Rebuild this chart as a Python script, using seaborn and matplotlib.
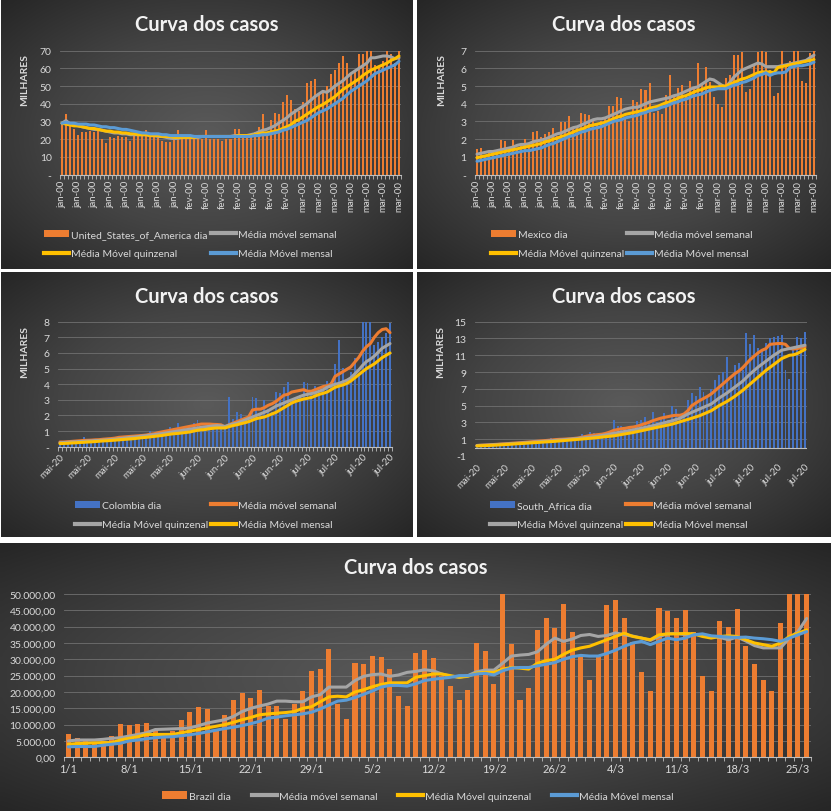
import numpy as np
import matplotlib
matplotlib.use("Agg")
import matplotlib.pyplot as plt
from matplotlib.patches import Patch
from matplotlib.lines import Line2D
from matplotlib.colors import LinearSegmentedColormap
import seaborn as sns

plt.rcParams['font.family'] = ['Lato', 'DejaVu Sans']

# ---------------- dados (milhares para os 4 paineis de cima) ----------------
usa_dia = [29.3, 34, 27.8, 25.5, 22.1, 24, 24, 24.6, 24.2, 24.6,
           19.9, 17.6, 21.4, 20.4, 21.8, 21.4, 21.4, 18.9, 21.8, 21.8,
           22.1, 25.2, 21.8, 21.8, 20.8, 18.9, 18.5, 18.5, 19.9, 25,
           21.8, 20.2, 19.9, 19.9, 19.9, 20.2, 25, 19.9, 19.9, 19.9,
           18.9, 19.9, 19.9, 26, 26, 21, 21, 22, 24, 27,
           34, 24, 31, 35, 34, 41, 45, 42, 37, 36,
           41, 52, 53, 54, 46, 48, 50, 57, 59, 63,
           67, 63, 57, 58, 68, 68, 70, 70, 62, 61,
           64, 70, 68, 63, 70]
usa_semanal = [29, 30.5, 28.5, 28, 27.5, 27, 26.5, 26, 25.5, 25.5,
               25, 24.5, 24, 23.5, 23.5, 23, 23, 22.5, 22.5, 22.5,
               22.5, 22.5, 22, 22, 21.5, 21.5, 21, 20.5, 20.3, 20.5,
               21, 21, 21, 21, 21, 21.5, 21.5, 21.5, 21.5, 21.5,
               21.5, 21.5, 21.5, 22, 22, 22, 22, 22.5, 23, 24,
               25, 25.5, 26.5, 27.5, 29, 30.5, 32, 34, 35.5, 37,
               38.5, 40, 42, 44, 45.5, 47, 46.5, 48, 50, 51.5,
               53, 55, 57, 58.5, 60, 61.5, 63, 66, 66, 66.5,
               67, 67, 66.5, 65.5, 66]
usa_quinzenal = [29, 28.5, 28, 27.5, 27.5, 27, 26.5, 26, 26, 25.5,
                 25, 24.5, 24.5, 24, 24, 23.5, 23.5, 23, 23, 22.5,
                 22.5, 22.5, 22, 22, 22, 21.5, 21.5, 21.5, 21, 21,
                 21, 21, 21, 21, 21.5, 21.5, 21.5, 21.5, 21.5, 21.5,
                 21.5, 21.5, 21.5, 21.5, 22, 22, 22, 22, 22.5, 23,
                 23.5, 23.5, 24, 24.5, 25, 26, 27, 28, 30, 31,
                 32.5, 34, 35.5, 37, 38.5, 39.5, 41, 42.5, 44, 46,
                 48, 49.5, 51, 52.5, 54, 56, 57.5, 59, 60, 61,
                 62, 63, 64.5, 65.5, 67]
usa_mensal = [29, 29.5, 29, 29, 28.5, 28.5, 28.5, 28, 28, 27.5,
              27, 27, 26.5, 26.5, 26, 25.5, 25.5, 25, 24.5, 24,
              23.5, 23.5, 23, 23, 23, 22.5, 22.5, 22, 22, 22,
              22, 22, 22, 21.5, 21.5, 21.5, 21.5, 21.5, 21.5, 21.5,
              21.5, 21.5, 21.5, 21.5, 21.5, 21.5, 21.5, 21.5, 22, 22,
              22.5, 22.5, 23, 23.5, 24, 25, 25.5, 26.5, 27.5, 28.5,
              29.5, 30.5, 32, 33.5, 35, 36, 37, 38.5, 40, 41.5,
              43, 45, 47, 48.5, 50, 51.5, 53, 55, 57, 58,
              59, 60, 61, 62, 64]

mex_dia = [1.45, 1.5, 1.1, 1.3, 1.35, 1.25, 1.95, 1.9, 1.55, 1.95,
           1.5, 1.6, 2.0, 1.6, 2.4, 2.45, 2.1, 2.3, 2.4, 2.65,
           2.2, 2.95, 2.95, 3.3, 2.6, 2.7, 3.45, 3.4, 3.35, 3.1,
           2.9, 3.0, 3.2, 3.85, 3.9, 4.4, 4.3, 3.2, 3.05, 4.2,
           4.1, 4.85, 4.75, 5.2, 3.45, 3.6, 3.4, 4.5, 5.65, 4.4,
           4.9, 5.05, 4.5, 5.3, 4.85, 6.3, 5.1, 6.1, 5.25, 4.4,
           4.0, 3.8, 5.45, 5.65, 6.75, 6.75, 6.9, 4.65, 4.85, 6.2,
           6.95, 7.0, 6.9, 5.9, 4.45, 4.6, 7.0, 6.1, 6.4, 7.0,
           7.0, 5.3, 5.15, 6.85, 7.0]
mex_semanal = [1.15, 1.2, 1.25, 1.3, 1.3, 1.35, 1.4, 1.45, 1.5, 1.55,
               1.65, 1.7, 1.7, 1.75, 1.85, 1.9, 1.95, 2.0, 2.1, 2.2,
               2.3, 2.35, 2.45, 2.55, 2.65, 2.7, 2.8, 2.9, 3.0, 3.1,
               3.15, 3.15, 3.2, 3.3, 3.4, 3.5, 3.6, 3.7, 3.75, 3.8,
               3.8, 3.9, 4.0, 4.1, 4.15, 4.2, 4.25, 4.3, 4.35, 4.45,
               4.5, 4.6, 4.7, 4.8, 4.9, 4.95, 5.1, 5.25, 5.4, 5.35,
               5.2, 5.05, 4.95, 5.2, 5.5, 5.7, 5.9, 6.0, 6.1, 6.2,
               6.3, 6.25, 6.1, 6.1, 6.1, 6.1, 6.15, 6.2, 6.25, 6.3,
               6.35, 6.4, 6.45, 6.6, 6.75]
mex_quinzenal = [0.95, 1.0, 1.05, 1.1, 1.15, 1.2, 1.25, 1.3, 1.35, 1.4,
                 1.45, 1.5, 1.55, 1.6, 1.65, 1.7, 1.75, 1.85, 1.9, 2.0,
                 2.05, 2.15, 2.2, 2.3, 2.4, 2.5, 2.55, 2.65, 2.75, 2.8,
                 2.85, 2.9, 2.95, 3.05, 3.15, 3.25, 3.3, 3.4, 3.45, 3.5,
                 3.55, 3.6, 3.65, 3.75, 3.8, 3.85, 3.95, 4.05, 4.1, 4.2,
                 4.3, 4.4, 4.45, 4.55, 4.65, 4.75, 4.8, 4.9, 4.95, 4.95,
                 4.95, 5.0, 5.0, 5.1, 5.2, 5.3, 5.4, 5.45, 5.55, 5.65,
                 5.75, 5.8, 5.8, 5.8, 5.75, 6.05, 6.1, 6.15, 6.2, 6.25,
                 6.3, 6.35, 6.4, 6.45, 6.5]
mex_mensal = [0.75, 0.8, 0.85, 0.9, 0.95, 1.0, 1.05, 1.1, 1.15, 1.2,
              1.25, 1.3, 1.35, 1.35, 1.4, 1.45, 1.5, 1.6, 1.7, 1.75,
              1.85, 1.95, 2.05, 2.15, 2.2, 2.3, 2.4, 2.45, 2.55, 2.6,
              2.65, 2.7, 2.8, 2.9, 3.0, 3.05, 3.1, 3.2, 3.25, 3.3,
              3.35, 3.45, 3.5, 3.6, 3.65, 3.7, 3.8, 3.85, 3.95, 4.05,
              4.1, 4.2, 4.25, 4.35, 4.45, 4.5, 4.55, 4.65, 4.75, 4.8,
              4.85, 4.85, 4.85, 4.95, 5.05, 5.1, 5.2, 5.25, 5.35, 5.45,
              5.6, 5.65, 5.75, 5.6, 5.7, 5.75, 5.75, 5.8, 6.05, 6.1,
              6.15, 6.15, 6.2, 6.25, 6.35]

col_dia = [0.25, 0.3, 0.25, 0.3, 0.35, 0.35, 0.6, 0.35, 0.4, 0.45,
           0.4, 0.45, 0.5, 0.45, 0.5, 0.55, 0.6, 0.55, 0.6, 0.65,
           0.6, 0.7, 0.75, 1.0, 0.8, 0.85, 0.9, 1.05, 1.25, 1.2,
           1.5, 1.1, 1.0, 1.2, 1.5, 1.7, 1.3, 1.2, 1.4, 1.35,
           1.45, 1.3, 1.2, 3.2, 1.8, 2.2, 2.1, 1.6, 1.7, 3.15,
           3.1, 2.0, 3.0, 2.4, 2.2, 3.5, 3.45, 3.85, 4.15, 3.0,
           2.8, 3.3, 4.15, 4.1, 3.4, 3.9, 3.3, 3.7, 4.2, 4.15,
           5.3, 6.8, 5.05, 4.3, 4.8, 5.7, 4.6, 8.0, 8.0, 8.0,
           6.5, 6.7, 7.0, 7.3, 7.9]
col_semanal = [0.3, 0.3, 0.32, 0.34, 0.36, 0.38, 0.4, 0.41, 0.42, 0.44,
               0.45, 0.48, 0.5, 0.52, 0.55, 0.6, 0.62, 0.64, 0.66, 0.68,
               0.7, 0.72, 0.75, 0.8, 0.83, 0.9, 0.95, 1.0, 1.05, 1.1,
               1.15, 1.2, 1.25, 1.3, 1.35, 1.4, 1.45, 1.45, 1.45, 1.43,
               1.42, 1.4, 1.25, 1.4, 1.5, 1.6, 1.7, 1.8, 1.9, 2.35,
               2.4, 2.4, 2.5, 2.65, 2.75, 2.9, 3.1, 3.3, 3.35, 3.5,
               3.55, 3.6, 3.65, 3.55, 3.55, 3.65, 3.75, 3.85, 3.9, 4.0,
               4.5, 4.65, 4.8, 4.95, 5.1, 5.4, 5.7, 6.1, 6.4, 6.6,
               7.0, 7.3, 7.5, 7.55, 7.3]
col_quinzenal = [0.25, 0.27, 0.28, 0.3, 0.31, 0.33, 0.34, 0.36, 0.37, 0.39,
                 0.4, 0.42, 0.44, 0.46, 0.48, 0.51, 0.54, 0.57, 0.6, 0.62,
                 0.65, 0.68, 0.71, 0.74, 0.77, 0.8, 0.84, 0.88, 0.92, 0.96,
                 1.0, 1.04, 1.08, 1.12, 1.16, 1.2, 1.24, 1.27, 1.3, 1.33,
                 1.35, 1.33, 1.3, 1.38, 1.45, 1.5, 1.6, 1.7, 1.8, 1.9,
                 2.0, 2.1, 2.2, 2.3, 2.45, 2.6, 2.7, 2.8, 2.9, 3.0,
                 3.1, 3.2, 3.3, 3.35, 3.4, 3.45, 3.55, 3.65, 3.8, 3.9,
                 4.0, 4.05, 4.15, 4.25, 4.4, 4.65, 4.9, 5.2, 5.45, 5.6,
                 5.8, 6.05, 6.3, 6.45, 6.6]
col_mensal = [0.2, 0.21, 0.22, 0.24, 0.25, 0.27, 0.28, 0.3, 0.31, 0.33,
              0.35, 0.37, 0.38, 0.4, 0.42, 0.44, 0.46, 0.48, 0.5, 0.52,
              0.55, 0.58, 0.6, 0.63, 0.66, 0.69, 0.72, 0.76, 0.8, 0.83,
              0.85, 0.88, 0.91, 0.94, 1.0, 1.05, 1.08, 1.1, 1.15, 1.18,
              1.2, 1.2, 1.2, 1.28, 1.35, 1.4, 1.47, 1.53, 1.6, 1.7,
              1.8, 1.85, 1.9, 2.0, 2.1, 2.2, 2.35, 2.5, 2.65, 2.8,
              2.9, 2.98, 3.05, 3.1, 3.15, 3.25, 3.35, 3.42, 3.5, 3.65,
              3.8, 3.88, 3.95, 4.05, 4.2, 4.4, 4.6, 4.8, 5.0, 5.15,
              5.3, 5.5, 5.7, 5.85, 6.0]

saf_dia = [0.25, 0.2, 0.3, 0.35, 0.35, 0.4, 0.45, 0.4, 0.45, 0.5,
           0.55, 0.6, 0.5, 0.55, 0.6, 0.7, 0.75, 0.8, 0.9, 1.2,
           0.9, 0.95, 1.0, 1.0, 0.9, 1.1, 1.2, 1.6, 1.3, 1.9,
           1.7, 1.4, 1.3, 1.5, 1.8, 3.3, 2.6, 2.6, 2.2, 2.4,
           2.3, 3.2, 3.3, 3.7, 3.0, 4.2, 3.1, 3.6, 4.1, 3.3,
           5.0, 4.6, 3.8, 4.0, 5.7, 6.5, 6.1, 7.2, 6.6, 5.9,
           7.0, 8.0, 8.7, 9.0, 10.8, 8.0, 9.9, 10.1, 9.2, 13.6,
           12.3, 13.4, 11.9, 11.5, 12.5, 13.0, 13.2, 13.3, 13.4, 9.2,
           8.2, 12.0, 13.2, 13.0, 13.8]
saf_semanal = [0.25, 0.28, 0.3, 0.33, 0.36, 0.39, 0.42, 0.45, 0.48, 0.52,
               0.55, 0.58, 0.62, 0.66, 0.7, 0.74, 0.78, 0.82, 0.86, 0.9,
               0.95, 0.98, 1.0, 1.03, 1.05, 1.1, 1.15, 1.25, 1.35, 1.45,
               1.5, 1.55, 1.6, 1.7, 1.85, 2.05, 2.15, 2.25, 2.3, 2.4,
               2.45, 2.55, 2.7, 2.85, 3.0, 3.2, 3.35, 3.5, 3.6, 3.7,
               3.8, 3.85, 3.85, 4.0, 4.4, 5.0, 5.3, 5.6, 5.85, 6.1,
               6.4, 6.8, 7.2, 7.6, 8.0, 8.4, 8.8, 9.1, 9.5, 10.0,
               10.5, 10.9, 11.3, 11.6, 11.8, 12.3, 12.35, 12.4, 12.4, 12.3,
               11.8, 11.75, 11.8, 11.9, 12.0]
saf_quinzenal = [0.25, 0.27, 0.29, 0.31, 0.34, 0.36, 0.39, 0.41, 0.44, 0.47,
                 0.5, 0.53, 0.56, 0.6, 0.63, 0.67, 0.71, 0.74, 0.78, 0.82,
                 0.85, 0.89, 0.93, 0.97, 1.01, 1.05, 1.1, 1.15, 1.2, 1.25,
                 1.3, 1.37, 1.45, 1.52, 1.6, 1.7, 1.78, 1.86, 1.94, 2.02,
                 2.1, 2.2, 2.3, 2.4, 2.5, 2.6, 2.72, 2.84, 2.96, 3.08,
                 3.2, 3.35, 3.5, 3.75, 4.0, 4.2, 4.4, 4.6, 4.8, 5.0,
                 5.2, 5.55, 5.9, 6.2, 6.5, 6.85, 7.2, 7.55, 7.9, 8.35,
                 8.8, 9.2, 9.6, 9.95, 10.3, 10.65, 11.0, 11.3, 11.6, 11.7,
                 11.8, 11.9, 12.0, 12.1, 12.2]
saf_mensal = [0.2, 0.22, 0.24, 0.26, 0.28, 0.3, 0.33, 0.36, 0.39, 0.42,
              0.45, 0.48, 0.51, 0.54, 0.57, 0.6, 0.63, 0.66, 0.69, 0.72,
              0.75, 0.79, 0.83, 0.87, 0.91, 0.95, 0.99, 1.03, 1.07, 1.11,
              1.15, 1.2, 1.25, 1.3, 1.35, 1.4, 1.48, 1.56, 1.64, 1.72,
              1.8, 1.9, 2.0, 2.1, 2.2, 2.3, 2.4, 2.5, 2.6, 2.7,
              2.8, 2.94, 3.08, 3.22, 3.36, 3.5, 3.65, 3.8, 4.0, 4.2,
              4.4, 4.7, 5.0, 5.25, 5.5, 5.8, 6.1, 6.45, 6.8, 7.2,
              7.6, 8.0, 8.4, 8.8, 9.2, 9.55, 9.9, 10.25, 10.6, 10.8,
              11.0, 11.05, 11.2, 11.45, 11.7]

bra_dia = [7100, 6000, 5000, 4000, 5000, 6500, 10300, 9800, 10100, 10400,
           8500, 5800, 8000, 11300, 13800, 15300, 14700, 8000, 13000, 17400,
           19800, 18300, 20700, 15800, 15600, 11600, 16200, 20400, 26400, 27000,
           33200, 16300, 11600, 28800, 28500, 31000, 30700, 27000, 18900, 15600,
           32000, 32900, 30400, 25000, 21900, 17400, 20500, 35000, 32400, 22500,
           50000, 34800, 17400, 21300, 39000, 42600, 39500, 47000, 38300, 30800,
           23800, 30600, 46500, 48300, 42700, 35200, 26200, 20300, 45700, 44700,
           42800, 45000, 38500, 25000, 20300, 41800, 40000, 45500, 34000, 28600,
           23600, 20200, 41000, 50000, 50000, 50000]
bra_semanal = [5000, 5300, 5300, 5300, 5500, 5800, 6000, 6500, 7000, 7500,
               8500, 8600, 8700, 8800, 9000, 9700, 10500, 11000, 11500, 12500,
               14000, 15000, 15700, 16300, 17200, 17200, 17000, 17000, 18500, 19200,
               21500, 21500, 21500, 23500, 24800, 25300, 25500, 24800, 25200, 26000,
               26300, 26800, 26500, 25500, 24800, 24500, 25000, 26200, 26700, 26700,
               28800, 31000, 31300, 31500, 32300, 34600, 36500, 35500, 36200, 37300,
               37600, 37000, 37300, 38100, 37500, 37100, 36500, 35800, 37000, 37800,
               37900, 37600, 37600, 37500, 37000, 36700, 36000, 36800, 35600, 34200,
               33500, 33500, 33500, 36500, 38500, 42500]
bra_quinzenal = [4000, 4200, 4300, 4400, 4500, 4500, 5300, 5800, 6300, 7000,
                 7000, 7000, 7000, 7500, 8000, 8500, 9000, 9500, 10000, 10700,
                 11500, 12200, 13000, 13300, 13500, 13700, 14000, 15000, 15500, 17000,
                 18500, 18700, 18500, 20000, 20700, 21600, 22300, 22800, 22800, 22800,
                 24500, 25000, 25500, 25500, 25000, 24500, 24800, 25800, 26000, 26000,
                 27000, 27500, 27300, 27000, 28800, 29600, 30000, 31500, 32800, 33500,
                 34000, 35000, 36000, 37000, 38000, 37000, 36500, 36000, 37500, 37800,
                 37800, 37900, 37800, 37000, 36500, 37000, 37200, 37000, 36000, 35000,
                 34500, 34000, 35000, 37000, 38000, 39000]
bra_mensal = [3200, 3300, 3300, 3300, 3700, 4000, 4300, 5000, 5300, 5700,
              6000, 6200, 6300, 6600, 6900, 7300, 7800, 8300, 8800, 9200,
              9700, 10300, 11000, 12000, 12300, 12700, 13000, 13300, 13800, 14800,
              16000, 17200, 17500, 18300, 19300, 20300, 21500, 22000, 22000, 21800,
              22500, 23500, 23900, 24200, 24500, 25000, 25000, 25500, 25700, 25200,
              26500, 27300, 27500, 27500, 28000, 28500, 29000, 30000, 30800, 31200,
              31000, 31000, 31800, 32800, 34000, 35000, 35500, 34500, 35500, 36500,
              36000, 36500, 37500, 37800, 37200, 37000, 36800, 36700, 36800, 36500,
              36300, 36000, 35500, 36500, 37500, 38500]

top_labels = ['jan-00'] * 8 + ['fev-00'] * 7 + ['mar-00'] * 7
mid_labels = ['mai-20'] * 5 + ['jun-20'] * 4 + ['jul-20'] * 4
bra_labels = ['1/1', '8/1', '15/1', '22/1', '29/1', '5/2', '12/2', '19/2',
              '26/2', '4/3', '11/3', '18/3', '25/3']

ORANGE = '#ED7D31'
GREY = '#A5A5A5'
YELLOW = '#FFC000'
LBLUE = '#5B9BD5'
DBLUE = '#4472C4'
TXT = '#D9D9D9'

W, H = 832, 812
fig = plt.figure(figsize=(W / 100, H / 100), dpi=100, facecolor='white')


def rect(x0, y0, x1, y1):
    return [x0 / W, 1 - y1 / H, (x1 - x0) / W, (y1 - y0) / H]


bg_cmap = LinearSegmentedColormap.from_list('bg', ['#5a5a5a', '#444444', '#262626'])


def background(box):
    ax = fig.add_axes(rect(*box), zorder=0)
    u, v = np.meshgrid(np.linspace(-1, 1, 200), np.linspace(-1, 1, 200))
    r = np.sqrt(u ** 2 + v ** 2) / np.sqrt(2)
    ax.imshow(r, cmap=bg_cmap, vmin=0, vmax=1, aspect='auto', interpolation='bilinear')
    ax.axis('off')


def panel(box, area, bars, bar_color, bar_name, lines, ylim, yticks, ylabels,
          xticks, xlabels, xrot, title_y, ylabel_xy, leg_xy, ncol, colspace,
          ytick_fs=7.5, xtick_fs=7, zero_axis=False, bar_w=0.5):
    background(box)
    ax = fig.add_axes(rect(*area), zorder=1)
    ax.set_facecolor('none')
    n = len(bars)
    idx = np.arange(n)
    sns.barplot(x=idx, y=bars, color=bar_color, saturation=1, width=bar_w, ax=ax)
    for vals, c, name in lines:
        sns.lineplot(x=idx, y=vals, color=c, linewidth=2.2, ax=ax, legend=False,
                     solid_capstyle='round')
    ax.set_xlim(-0.5, n - 0.5)
    ax.set_ylim(*ylim)
    ax.set_xlabel('')
    ax.set_ylabel('')
    ax.set_yticks(yticks, ylabels)
    if xrot == 90:
        ax.set_xticks(xticks, xlabels, rotation=90, ha='center', va='top')
    elif xrot == 45:
        ax.set_xticks(xticks, xlabels, rotation=45, ha='right', va='top',
                      rotation_mode='anchor')
    else:
        ax.set_xticks(xticks, xlabels)
    ax.set_xticks(np.arange(-0.5, n, 1), minor=True)
    ax.tick_params(axis='x', which='major', length=0, pad=4, labelsize=xtick_fs,
                   labelcolor=TXT)
    ax.tick_params(axis='x', which='minor', length=3, color='#bfbfbf', width=0.6)
    ax.tick_params(axis='y', length=0, pad=6, labelsize=ytick_fs, labelcolor=TXT)
    for s in ['left', 'top', 'right']:
        ax.spines[s].set_visible(False)
    ax.spines['bottom'].set_color('#bfbfbf')
    ax.spines['bottom'].set_linewidth(0.8)
    if zero_axis:
        ax.spines['bottom'].set_visible(False)
        ax.tick_params(axis='x', which='minor', length=0)
        ax.axhline(0, color='#bfbfbf', lw=0.8, zorder=1.5)
    ax.yaxis.grid(True, color='#707070', lw=0.6)
    ax.set_axisbelow(True)

    cx = (box[0] + box[2]) / 2
    fig.text(cx / W, 1 - title_y / H, 'Curva dos casos', fontsize=14.5,
             fontweight='bold', color='#F2F2F2', ha='center', va='center')
    if ylabel_xy is not None:
        fig.text(ylabel_xy[0] / W, 1 - ylabel_xy[1] / H, 'MILHARES', rotation=90,
                 fontsize=7.5, fontweight='bold', color=TXT, ha='center', va='center')

    handles = [Patch(facecolor=bar_color, edgecolor='none')]
    labels = [bar_name]
    for vals, c, name in lines:
        handles.append(Line2D([0], [0], color=c, lw=3))
        labels.append(name)
    if ncol == 2:
        order = [0, 2, 1, 3]
        handles = [handles[i] for i in order]
        labels = [labels[i] for i in order]
    ax.legend(handles, labels, loc='center', bbox_to_anchor=(leg_xy[0] / W, 1 - leg_xy[1] / H),
              bbox_transform=fig.transFigure, ncol=ncol, frameon=False, fontsize=7.5,
              labelcolor=TXT, handlelength=2.4, handleheight=0.7, handletextpad=0.2,
              columnspacing=colspace, labelspacing=0.95, borderpad=0)
    return ax


names_a = ('Média móvel semanal', 'Média Móvel quinzenal', 'Média Móvel mensal')

# Estados Unidos
panel((1, 1, 413, 270), (60, 51.7, 401, 175.5), usa_dia, ORANGE, 'United_States_of_America dia',
      [(usa_semanal, GREY, names_a[0]), (usa_quinzenal, YELLOW, names_a[1]), (usa_mensal, LBLUE, names_a[2])],
      (0, 70), range(0, 71, 10), ['-'] + [str(v) for v in range(10, 71, 10)],
      range(0, 85, 4), top_labels, 90, 25, (25, 80), (190, 245), 2, 0.3)

# Mexico
panel((417, 1, 830, 270), (475, 51.7, 816, 175.5), mex_dia, ORANGE, 'Mexico dia',
      [(mex_semanal, GREY, names_a[0]), (mex_quinzenal, YELLOW, names_a[1]), (mex_mensal, LBLUE, names_a[2])],
      (0, 7), range(0, 8), ['-'] + [str(v) for v in range(1, 8)],
      range(0, 85, 4), top_labels, 90, 25, (442, 80), (622, 245), 2, 0.3)

# Colombia
panel((1, 273, 413, 538), (58, 322.7, 392, 447.7), col_dia, DBLUE, 'Colombia dia',
      [(col_semanal, ORANGE, names_a[0]), (col_quinzenal, GREY, names_a[1]), (col_mensal, YELLOW, names_a[2])],
      (0, 8), range(0, 9), ['-'] + [str(v) for v in range(1, 9)],
      range(0, 85, 7), mid_labels, 45, 297, (25, 352), (206, 516), 2, 0.3)

# Africa do Sul
panel((417, 273, 830, 538), (475, 322.7, 807, 457), saf_dia, DBLUE, 'South_Africa dia',
      [(saf_semanal, ORANGE, names_a[0]), (saf_quinzenal, GREY, names_a[1]), (saf_mensal, YELLOW, names_a[2])],
      (-1, 15), range(-1, 16, 2), [str(v) for v in range(-1, 16, 2)],
      range(0, 85, 7), mid_labels, 45, 297, (441, 352), (621, 516), 2, 0.3,
      zero_axis=True)

# Brasil
bra_yticks = list(range(0, 50001, 5000))
bra_ylabels = ['{:,.2f}'.format(v).replace(',', 'X').replace('.', ',').replace('X', '.') for v in bra_yticks]
panel((0, 544, 831, 812), (64, 595, 811, 758.3), bra_dia, ORANGE, 'Brazil dia',
      [(bra_semanal, GREY, names_a[0]), (bra_quinzenal, YELLOW, names_a[1]), (bra_mensal, LBLUE, names_a[2])],
      (0, 50000), bra_yticks, bra_ylabels,
      range(0, 85, 7), bra_labels, 0, 568, None, (418, 797), 4, 2.0,
      ytick_fs=7.5, xtick_fs=8, bar_w=0.58)

fig.savefig('out.png', dpi=100, facecolor='white')
